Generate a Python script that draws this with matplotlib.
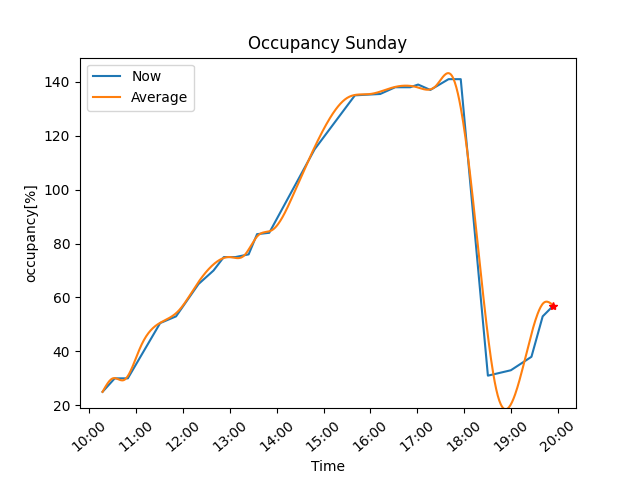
import numpy as np
import matplotlib
matplotlib.use("Agg")
from matplotlib import pyplot as plt
from matplotlib.ticker import FuncFormatter

# hours of day
now_t = [10.28, 10.54, 10.82, 11.51, 11.85, 12.33, 12.65, 12.87, 13.12, 13.4, 13.58, 13.84,
         14.81, 15.67, 16.21, 16.53, 16.85, 17.02, 17.28, 17.67, 17.93, 18.51, 19.0, 19.44,
         19.68, 19.91]
now_v = [25, 30, 30, 50.5, 53, 65, 70, 75, 75, 76, 83.5, 84,
         115, 135, 135.5, 138, 138, 139, 137, 141, 141, 31, 33, 38,
         53, 57]

avg_t = [10.28, 10.5, 10.75, 11.1, 11.5, 11.9, 12.3, 12.7, 13.0, 13.3, 13.6, 13.9,
         14.4, 14.9, 15.5, 16.0, 16.5, 17.0, 17.4, 17.75, 18.1, 18.7, 19.3, 19.7, 19.91]
avg_v = [25, 30, 29.5, 42, 50.5, 55, 65, 73, 75, 75.5, 83, 85,
         100, 119, 134, 135.5, 138, 138, 138.5, 142, 110, 25, 37, 58, 57]


def natural_spline(x, y, n=600):
    x = np.asarray(x, float)
    y = np.asarray(y, float)
    k = len(x)
    h = np.diff(x)
    A = np.zeros((k, k))
    b = np.zeros(k)
    A[0, 0] = A[-1, -1] = 1
    for i in range(1, k - 1):
        A[i, i - 1] = h[i - 1]
        A[i, i] = 2 * (h[i - 1] + h[i])
        A[i, i + 1] = h[i]
        b[i] = 6 * ((y[i + 1] - y[i]) / h[i] - (y[i] - y[i - 1]) / h[i - 1])
    m = np.linalg.solve(A, b)
    xs = np.linspace(x[0], x[-1], n)
    idx = np.clip(np.searchsorted(x, xs) - 1, 0, k - 2)
    x0, x1 = x[idx], x[idx + 1]
    hh = x1 - x0
    ys = (m[idx] * (x1 - xs) ** 3 / (6 * hh) + m[idx + 1] * (xs - x0) ** 3 / (6 * hh)
          + (y[idx] / hh - m[idx] * hh / 6) * (x1 - xs)
          + (y[idx + 1] / hh - m[idx + 1] * hh / 6) * (xs - x0))
    return xs, ys


fig, ax = plt.subplots(figsize=(6.4, 4.8), dpi=100)
ax.plot(now_t, now_v, label="Now")
sx, sy = natural_spline(avg_t, avg_v)
ax.plot(sx, sy, label="Average")
ax.plot(now_t[-1], now_v[-1], "r*")
ax.set_xticks(range(10, 21))
ax.xaxis.set_major_formatter(FuncFormatter(lambda v, p: f"{int(v):02d}:00"))
plt.setp(ax.get_xticklabels(), rotation=40)
ax.set_ylim(19, 149)
ax.set_xlabel("Time")
ax.set_ylabel("occupancy[%]")
ax.set_title("Occupancy Sunday")
ax.legend(loc="upper left")
plt.subplots_adjust(bottom=0.15)
plt.savefig("out.png")
